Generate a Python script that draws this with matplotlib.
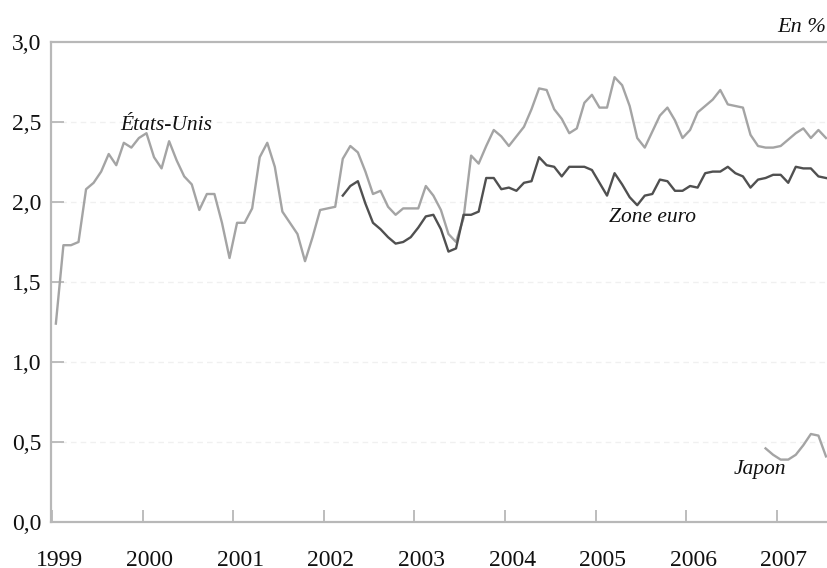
import matplotlib
matplotlib.use("Agg")
import matplotlib.pyplot as plt
from matplotlib.transforms import ScaledTranslation
import numpy as np

# Monthly data, first month = January 1999
start_year = 1999
us_values = [1.24, 1.73, 1.73, 1.75, 2.08, 2.12, 2.19, 2.30, 2.23, 2.37, 2.34, 2.40,
             2.43, 2.28, 2.21, 2.38, 2.26, 2.16, 2.11, 1.95, 2.05, 2.05, 1.87, 1.65,
             1.87, 1.87, 1.96, 2.28, 2.37, 2.22, 1.94, 1.87, 1.80, 1.63, 1.78, 1.95,
             1.96, 1.97, 2.27, 2.35, 2.31, 2.19, 2.05, 2.07, 1.97, 1.92, 1.96, 1.96,
             1.96, 2.10, 2.04, 1.95, 1.80, 1.75, 1.90, 2.29, 2.24, 2.35, 2.45, 2.41,
             2.35, 2.41, 2.47, 2.58, 2.71, 2.70, 2.58, 2.52, 2.43, 2.46, 2.62, 2.67,
             2.59, 2.59, 2.78, 2.73, 2.60, 2.40, 2.34, 2.44, 2.54, 2.59, 2.51, 2.40,
             2.45, 2.56, 2.60, 2.64, 2.70, 2.61, 2.60, 2.59, 2.42, 2.35, 2.34, 2.34,
             2.35, 2.39, 2.43, 2.46, 2.40, 2.45, 2.40]
euro_start_month = 38  # March 2002
euro_values = [2.04, 2.10, 2.13, 1.99, 1.87, 1.83, 1.78, 1.74, 1.75, 1.78,
               1.84, 1.91, 1.92, 1.83, 1.69, 1.71, 1.92, 1.92, 1.94, 2.15,
               2.15, 2.08, 2.09, 2.07, 2.12, 2.13, 2.28, 2.23, 2.22, 2.16,
               2.22, 2.22, 2.22, 2.20, 2.12, 2.04, 2.18, 2.11, 2.03, 1.98,
               2.04, 2.05, 2.14, 2.13, 2.07, 2.07, 2.10, 2.09, 2.18, 2.19,
               2.19, 2.22, 2.18, 2.16, 2.09, 2.14, 2.15, 2.17, 2.17, 2.12,
               2.22, 2.21, 2.21, 2.16, 2.15]
japan_start_month = 94  # November 2006
japan_values = [0.46, 0.42, 0.39, 0.39, 0.42, 0.48, 0.55, 0.54, 0.41]

year_ticks = list(range(1999, 2008))
y_ticks = [0.0, 0.5, 1.0, 1.5, 2.0, 2.5, 3.0]
y_tick_labels = ["0,0", "0,5", "1,0", "1,5", "2,0", "2,5", "3,0"]


def month_pos(k):
    return start_year + (np.asarray(k) + 0.5) / 12.0


plt.rcParams['font.family'] = ['Liberation Serif', 'DejaVu Serif']

fig = plt.figure(figsize=(8.28, 5.68), dpi=100)
ax = fig.add_axes([51 / 828, 46 / 568, 1 - 51 / 828, (522 - 42) / 568])

x_us = month_pos(np.arange(len(us_values)))
x_eu = month_pos(euro_start_month + np.arange(len(euro_values)))
x_jp = month_pos(japan_start_month + np.arange(len(japan_values)))

ax.plot(x_us, us_values, color='#a4a4a4', lw=1.7, solid_joinstyle='round', zorder=3)
ax.plot(x_eu, euro_values, color='#505050', lw=1.7, solid_joinstyle='round', zorder=4)
ax.plot(x_jp, japan_values, color='#a4a4a4', lw=1.7, solid_joinstyle='round', zorder=3)

ax.set_xlim(1998.988, 2007.564)
ax.set_ylim(0, 3.0)

for yv in [0.5, 1.0, 1.5, 2.0, 2.5]:
    ax.axhline(yv, color='#f0f0f0', lw=1.0, ls=(0, (4, 3)), zorder=1)

ax.spines['right'].set_visible(False)
for side in ['left', 'bottom', 'top']:
    ax.spines[side].set_color('#b8b8b8')
    ax.spines[side].set_linewidth(1.6)

ax.set_xticks(year_ticks)
ax.set_xticklabels([str(y) for y in year_ticks])
ax.set_yticks(y_ticks)
ax.set_yticklabels(y_tick_labels)

ax.tick_params(axis='x', direction='in', length=9, width=1.3, color='#b8b8b8',
               labelsize=17, pad=20, labelcolor='#111111')
ax.tick_params(axis='y', direction='in', length=9, width=1.3, color='#b8b8b8',
               labelsize=17, pad=7, labelcolor='#111111')

offset = ScaledTranslation(7 / 100, 0, fig.dpi_scale_trans)
for lab in ax.get_xticklabels():
    lab.set_transform(lab.get_transform() + offset)

ax.text(2000.26, 2.48, "États-Unis", style='italic', fontsize=15.5,
        ha='center', va='center', color='#111111')
ax.text(2005.63, 1.90, "Zone euro", style='italic', fontsize=15.5,
        ha='center', va='center', color='#111111')
ax.text(2006.81, 0.33, "Japon", style='italic', fontsize=15.5,
        ha='center', va='center', color='#111111')
fig.text(826 / 828, 1 - 27 / 568, "En %", style='italic', fontsize=16,
         ha='right', va='center', color='#111111')

fig.savefig("out.png", dpi=100)
